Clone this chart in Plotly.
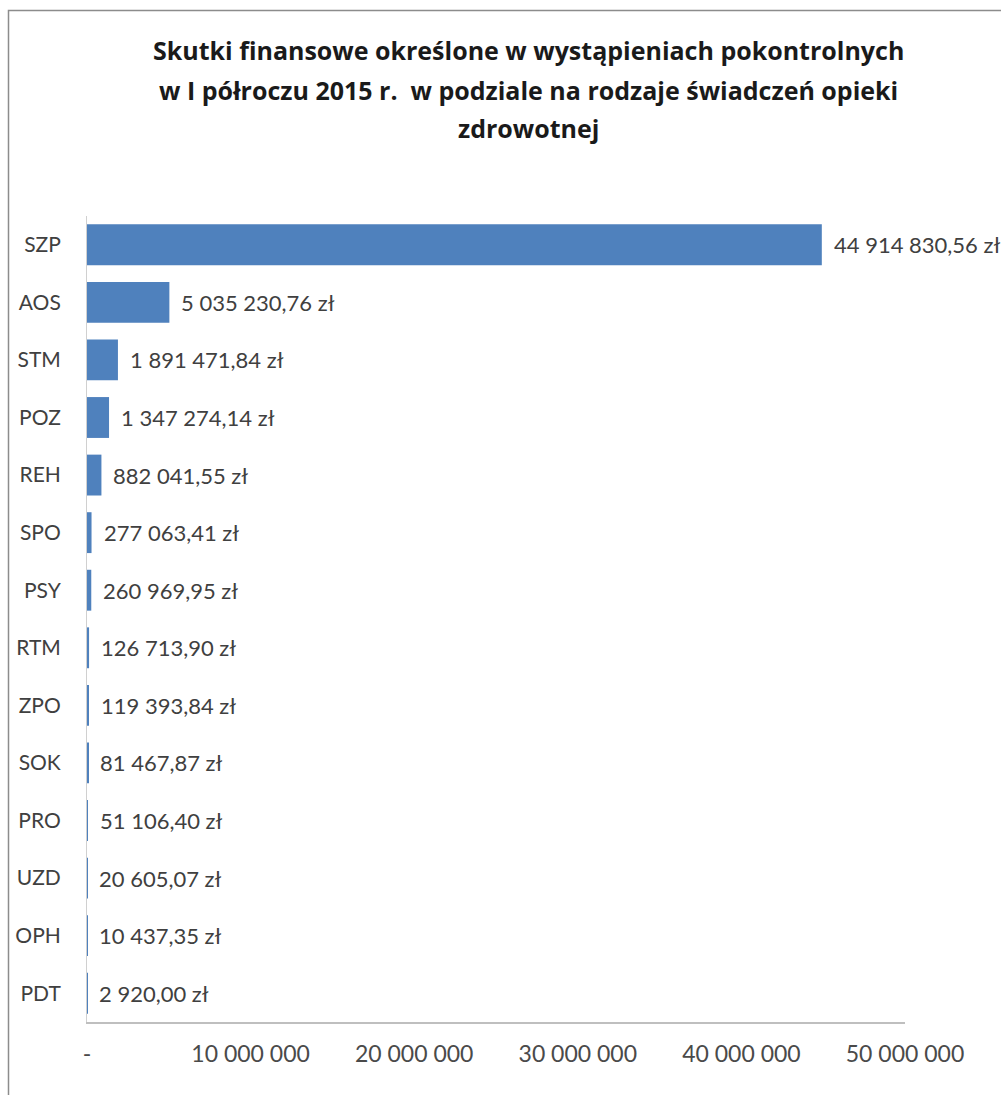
import plotly.graph_objects as go

categories = ["SZP", "AOS", "STM", "POZ", "REH", "SPO", "PSY", "RTM", "ZPO", "SOK", "PRO", "UZD", "OPH", "PDT"]
values = [44914830.56, 5035230.76, 1891471.84, 1347274.14, 882041.55, 277063.41, 260969.95,
          126713.90, 119393.84, 81467.87, 51106.40, 20605.07, 10437.35, 2920.00]
tick_vals = [0, 10000000, 20000000, 30000000, 40000000, 50000000]
tick_text = ["-", "10 000 000", "20 000 000", "30 000 000", "40 000 000", "50 000 000"]
title_lines = ["Skutki finansowe określone w wystąpieniach pokontrolnych",
               "w I półroczu 2015 r.  w podziale na rodzaje świadczeń opieki",
               "zdrowotnej"]


def fmt(v):
    s = f"{v:,.2f}".replace(",", " ").replace(".", ",")
    return s + " zł"


W, H = 1001, 1095
L, R, T, B = 87, 96, 216, 73
pw, ph = W - L - R, H - T - B

FONT = "Lato, 'Open Sans', sans-serif"
TFONT = "'Open Sans', Lato, sans-serif"
TXT = "#404040"

fig = go.Figure()
fig.add_trace(go.Bar(
    x=values, y=categories, orientation="h",
    marker=dict(color="#4f81bd", line=dict(width=0)),
    hoverinfo="skip",
))

for c, v in zip(categories, values):
    fig.add_annotation(x=v, y=c, xref="x", yref="y", text=fmt(v), showarrow=False,
                       xanchor="left", yanchor="middle", xshift=10,
                       font=dict(family=FONT, size=22, color=TXT))

title_py = [50, 90, 128]
for line, py in zip(title_lines, title_py):
    fig.add_annotation(x=(528 - L) / pw, y=(H - B - py) / ph, xref="paper", yref="paper",
                       text=f"<b>{line}</b>", showarrow=False, xanchor="center", yanchor="middle",
                       font=dict(family=TFONT, size=25, color="#1a1a1a"))

# outer chart border
fig.add_shape(type="rect", xref="paper", yref="paper",
              x0=(8.5 - L) / pw, x1=1.3, y0=-0.3, y1=(H - B - 10.5) / ph,
              line=dict(color="#8c8c8c", width=1.5), fillcolor="rgba(0,0,0,0)", layer="below")

fig.update_layout(
    width=W, height=H,
    margin=dict(l=L, r=R, t=T, b=B, pad=0),
    paper_bgcolor="white", plot_bgcolor="white",
    showlegend=False,
    bargap=0.29,
    font=dict(family=FONT, color=TXT),
    xaxis=dict(range=[0, 50000000], tickvals=tick_vals, ticktext=tick_text,
               showgrid=False, zeroline=False, showline=True, linecolor="#bfbfbf", linewidth=1.5,
               ticks="", ticklabelstandoff=11, tickfont=dict(family=FONT, size=23, color="#4a4a4a"),
               fixedrange=True),
    yaxis=dict(categoryorder="array", categoryarray=categories, autorange="reversed",
               showgrid=False, zeroline=False, showline=True, linecolor="#d0d0d0", linewidth=1,
               ticks="", ticklabelstandoff=21, tickfont=dict(family=FONT, size=21, color=TXT),
               fixedrange=True),
)

fig.write_html("out.html")
